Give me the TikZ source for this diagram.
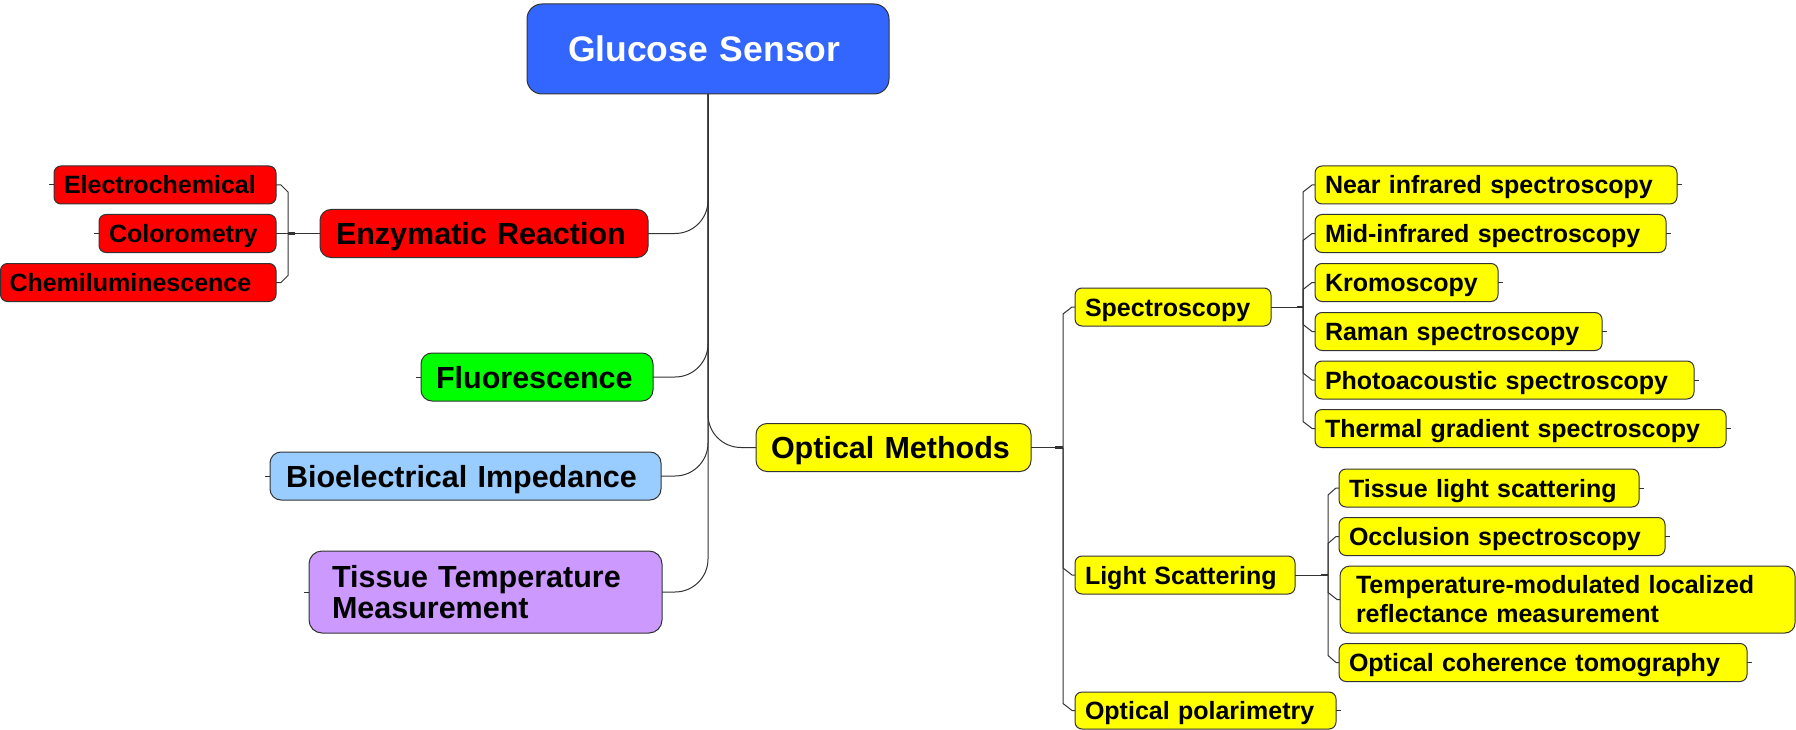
\documentclass[tikz,border=0pt]{standalone}
\usepackage{fontspec}
\setmainfont{Liberation Sans}
\usetikzlibrary{calc}
\definecolor{gsblue}{HTML}{3366FF}
\definecolor{rd}{HTML}{FF0000}
\definecolor{gr}{HTML}{00FF00}
\definecolor{lb}{HTML}{99CCFF}
\definecolor{pu}{HTML}{CC99FF}
\definecolor{ylw}{HTML}{FFFF00}
\definecolor{ln}{HTML}{333333}
\tikzset{
  base/.style={draw=ln, line width=1pt, rounded corners=7pt, anchor=west, align=left, inner ysep=0pt, outer sep=0pt},
  smf/.style={font=\bfseries\fontsize{25}{29}\selectfont},
  bgf/.style={font=\bfseries\fontsize{30.5}{31.5}\selectfont},
  sm/.style={base, smf, text height=18pt, text depth=0pt, minimum height=38pt, fill=ylw},
  bg/.style={base, bgf, rounded corners=11pt, text height=22pt, text depth=0pt, minimum height=48pt},
  conn/.style={draw=ln, line width=1pt},
  thk/.style={draw=ln, line width=2.2pt},
}
\newcommand\brR[3]{\draw[conn] (#1) -- ($(#1 |- #2.west)+(0,#3)$) -- ($(#2.west)+(-3,0)$) -- (#2.west);}
\newcommand\brL[3]{\draw[conn] (#1) -- ($(#1 |- #2.east)+(0,#3)$) -- ($(#2.east)+(5,0)$) -- (#2.east);}
\begin{document}
\begin{tikzpicture}[x=1pt,y=-1pt]
\useasboundingbox (0,0) rectangle (1796,730);
% root
\node[base, fill=gsblue, text=white, font=\bfseries\fontsize{35.5}{40}\selectfont, rounded corners=15pt, text height=25.5pt, text depth=0pt, minimum height=90pt, inner xsep=41pt, text width=280pt] (gs) at (527,49) {Glucose Sensor};
% left main branches
\node[bg, fill=rd, inner xsep=16pt, text width=296pt] (enz) at (320,233.5) {Enzymatic Reaction};
\node[bg, fill=gr, inner xsep=15pt, text width=202pt] (fluo) at (421,377) {Fluorescence};
\node[bg, fill=lb, inner xsep=16pt, text width=359pt] (bio) at (270,476) {Bioelectrical Impedance};
\node[base, bgf, fill=pu, rounded corners=13pt, minimum height=82pt, inner xsep=23pt, text width=307pt] (tis) at (309,592) {Tissue Temperature\\Measurement};
\node[bg, fill=ylw, inner xsep=15pt, text width=245pt] (opt) at (756,447.5) {Optical Methods};
% enzymatic children
\node[sm, fill=rd, inner xsep=10pt, text width=202pt] (elec) at (54,185) {Electrochemical};
\node[sm, fill=rd, inner xsep=10pt, text width=157pt] (colo) at (99,233.5) {Colorometry};
\node[sm, fill=rd, inner xsep=9pt, text width=257.5pt] (chem) at (0.5,282.5) {Chemiluminescence};
% optical children
\node[sm, inner xsep=10pt, text width=176pt] (spec) at (1075,307) {Spectroscopy};
\node[sm, inner xsep=10pt, text width=200pt] (ls) at (1075,575) {Light Scattering};
\node[sm, minimum height=37pt, inner xsep=10pt, text width=241pt] (pol) at (1075,710.5) {Optical polarimetry};
% spectroscopy children
\node[sm, inner xsep=10pt, text width=342pt] (nir) at (1315,185) {Near infrared spectroscopy};
\node[sm, inner xsep=10pt, text width=331pt] (mir) at (1315,233.5) {Mid-infrared spectroscopy};
\node[sm, inner xsep=10pt, text width=163pt] (kro) at (1315,282.5) {Kromoscopy};
\node[sm, inner xsep=10pt, text width=267pt] (ram) at (1315,331.5) {Raman spectroscopy};
\node[sm, inner xsep=10pt, text width=359pt] (pho) at (1315,380) {Photoacoustic spectroscopy};
\node[sm, inner xsep=10pt, text width=391pt] (thg) at (1315,428.5) {Thermal gradient spectroscopy};
% light scattering children
\node[sm, inner xsep=10pt, text width=280pt] (tls) at (1339,488) {Tissue light scattering};
\node[sm, inner xsep=10pt, text width=306pt] (occ) at (1339,536.5) {Occlusion spectroscopy};
\node[base, smf, fill=ylw, rounded corners=10pt, minimum height=67pt, inner xsep=16pt, text width=423pt] (tmr) at (1340,599.5) {Temperature-modulated localized\\reflectance measurement};
\node[sm, inner xsep=10pt, text width=388pt] (oct) at (1339,662.5) {Optical coherence tomography};
% trunk and curved branches
\foreach \n in {enz,fluo,bio,tis} \draw[conn, rounded corners=33pt] (\n.east) -| (gs.south);
\draw[conn, rounded corners=33pt] (opt.west) -| (gs.south);
% enzymatic bracket
\coordinate (enzB) at ($(enz.west)+(-32,0)$);
\draw[conn] (enz.west) -- (enzB);
\draw[thk] ($(enzB)+(7,0)$) -- (enzB);
\brL{enzB}{elec}{7}
\draw[conn] (enzB) -- (colo.east);
\brL{enzB}{chem}{-7}
% optical bracket
\coordinate (optB) at ($(opt.east)+(32,0)$);
\draw[conn] (opt.east) -- (optB);
\draw[thk] ($(optB)+(-8,0)$) -- (optB);
\brR{optB}{spec}{7}
\brR{optB}{ls}{-7}
\brR{optB}{pol}{-7}
% spectroscopy bracket
\coordinate (specB) at ($(spec.east)+(32,0)$);
\draw[conn] (spec.east) -- (specB);
\draw[thk] ($(specB)+(-6,0)$) -- (specB);
\brR{specB}{nir}{7}
\brR{specB}{mir}{7}
\brR{specB}{kro}{7}
\brR{specB}{ram}{-7}
\brR{specB}{pho}{-7}
\brR{specB}{thg}{-7}
% light scattering bracket
\coordinate (lsB) at ($(ls.east)+(33,0)$);
\draw[conn] (ls.east) -- (lsB);
\draw[thk] ($(lsB)+(-7,0)$) -- (lsB);
\brR{lsB}{tls}{7}
\brR{lsB}{occ}{7}
\brR{lsB}{tmr}{-7}
\brR{lsB}{oct}{-7}
% free stubs
\foreach \n in {nir,mir,kro,ram,pho,thg,tls,occ,oct,pol} \draw[conn] (\n.east) -- ++(5,0);
\foreach \n in {elec,colo,fluo,bio,tis} \draw[conn] (\n.west) -- ++(-5,0);
\end{tikzpicture}
\end{document}
